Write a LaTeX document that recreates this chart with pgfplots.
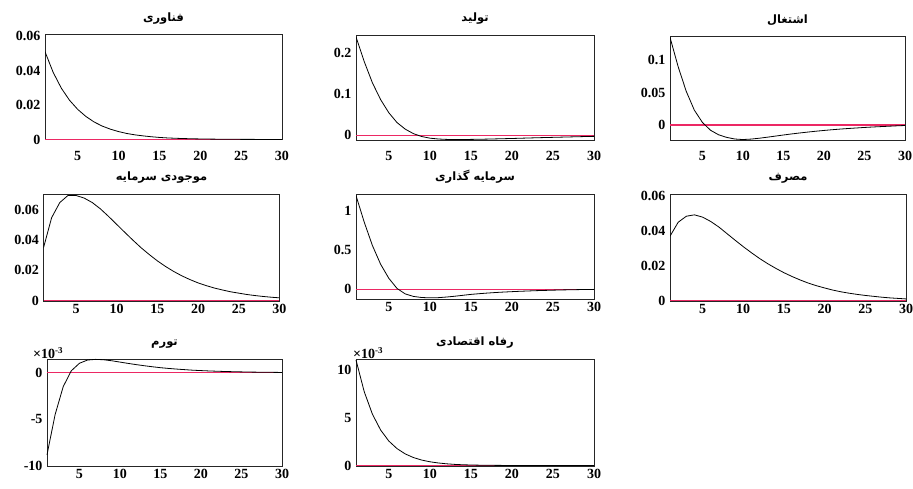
\documentclass[border=0pt]{standalone}
\usepackage{fontspec}
\setmainfont{Liberation Serif}
\newfontfamily\arabicfont[Script=Arabic]{DejaVu Sans}
\TeXXeTstate=1
\usepackage{pgfplots}
\usepackage{pgfplotstable}
\pgfplotsset{compat=1.18}
\definecolor{zl}{RGB}{236,40,100}

\pgfplotstableread{
t a b c d e f g h
1 0.051 0.240 0.135 0.035 1.20 0.037 -0.0088 0.0110
2 0.039 0.180 0.090 0.055 0.86 0.045 -0.0045 0.0077
3 0.0298 0.128 0.052 0.065 0.56 0.0485 -0.0015 0.00535
4 0.0228 0.087 0.023 0.0697 0.32 0.0493 0.0002 0.0037
5 0.0175 0.055 0.004 0.0697 0.14 0.0480 0.0010 0.00255
6 0.0134 0.031 -0.008 0.0680 0.01 0.0455 0.00135 0.00176
7 0.0102 0.015 -0.015 0.0650 -0.06 0.0423 0.00142 0.00121
8 0.0078 0.004 -0.019 0.0608 -0.092 0.0385 0.00138 0.00083
9 0.0060 -0.003 -0.0215 0.0558 -0.106 0.0347 0.00127 0.00057
10 0.0046 -0.007 -0.0223 0.0505 -0.110 0.0310 0.00113 0.00039
11 0.0035 -0.009 -0.0216 0.0452 -0.108 0.0275 0.00099 0.00027
12 0.0027 -0.010 -0.0203 0.0400 -0.100 0.0242 0.00086 0.00018
13 0.0021 -0.0103 -0.0187 0.0350 -0.090 0.0212 0.00074 0.00012
14 0.0016 -0.0103 -0.0170 0.0305 -0.078 0.0185 0.00063 0.00008
15 0.0012 -0.0100 -0.0153 0.0263 -0.066 0.0160 0.00053 0.000055
16 0.0009 -0.0097 -0.0137 0.0226 -0.057 0.0138 0.00045 0.000037
17 0.0007 -0.0093 -0.0122 0.0193 -0.049 0.0118 0.00038 0.000025
18 0.00054 -0.0088 -0.0108 0.0164 -0.042 0.0100 0.00032 0.000017
19 0.00041 -0.0083 -0.0095 0.0139 -0.036 0.0085 0.00026 0.000011
20 0.00032 -0.0078 -0.0083 0.0117 -0.031 0.0072 0.00022 0.000007
21 0.00024 -0.0072 -0.0072 0.0099 -0.026 0.0060 0.00018 0.000005
22 0.00019 -0.0066 -0.0062 0.0083 -0.022 0.0050 0.00015 0.000003
23 0.00014 -0.0060 -0.0053 0.0070 -0.018 0.0042 0.00012 0.000002
24 0.00011 -0.0055 -0.0045 0.0058 -0.015 0.0035 0.00010 0.000001
25 0.00008 -0.0050 -0.0037 0.0049 -0.012 0.0029 0.00008 0.000001
26 0.00006 -0.0045 -0.0030 0.0040 -0.009 0.0024 0.00006 0
27 0.00005 -0.0040 -0.0024 0.0033 -0.007 0.0019 0.00005 0
28 0.00004 -0.0035 -0.0018 0.0027 -0.005 0.0015 0.00004 0
29 0.00003 -0.0030 -0.0012 0.0022 -0.003 0.0012 0.00003 0
30 0.00002 -0.0026 -0.0007 0.0018 -0.002 0.0009 0.00002 0
}\data

\pgfplotsset{irf/.style={
  scale only axis, anchor=north west,
  xmin=1, xmax=30, xtick={5,10,...,30},
  scaled y ticks=false, scaled x ticks=false,
  axis line style={black!85, line width=0.6pt},
  major tick length=0pt,
  tick label style={font=\fontsize{14}{15}\selectfont\bfseries},
  /pgf/number format/assume math mode=true,
  yticklabel style={xshift=-1pt},
  title style={font=\fontsize{11.5}{13}\selectfont\arabicfont\bfseries, at={(0.5,1)}, anchor=south, yshift=1pt},
}, toprow/.style={xticklabel style={yshift=-8pt}}}
\newcommand{\zeroline}{\addplot[zl, line width=1.3pt] coordinates {(1,0) (30,0)};}
\newcommand{\scalelab}[1]{\node[anchor=south west, inner sep=0pt, font=\fontsize{14}{14}\selectfont\bfseries] at (rel axis cs:0,1) [xshift=#1, yshift=0pt] {×10\raisebox{5.5pt}{\fontsize{9}{9}\selectfont -3}};}

\begin{document}
\begin{tikzpicture}
\useasboundingbox (0,0) rectangle (913pt,-489pt);

\begin{axis}[irf, toprow, at={(45pt,-34.5pt)}, width=237pt, height=105pt,
  ymin=0, ymax=0.061, ytick={0,0.02,0.04,0.06}, yticklabels={0,0.02,0.04,0.06},
  title={\beginR فناوری\endR}]
\zeroline
\addplot[black, line width=0.8pt] table[x=t,y=a]{\data};
\end{axis}

\begin{axis}[irf, toprow, at={(356pt,-35.3pt)}, width=238pt, height=104.5pt,
  ymin=-0.011, ymax=0.244, ytick={0,0.1,0.2}, yticklabels={0,0.1,0.2},
  title={\beginR تولید\endR}]
\zeroline
\addplot[black, line width=0.8pt] table[x=t,y=b]{\data};
\end{axis}

\begin{axis}[irf, toprow, at={(670pt,-36pt)}, width=235pt, height=104pt,
  ymin=-0.023, ymax=0.137, ytick={0,0.05,0.1}, yticklabels={0,0.05,0.1},
  title={\beginR اشتغال\endR}]
\zeroline
\addplot[black, line width=0.8pt] table[x=t,y=c]{\data};
\end{axis}

\begin{axis}[irf, at={(43.5pt,-194pt)}, width=236pt, height=107pt,
  ymin=-0.0003, ymax=0.0707, ytick={0,0.02,0.04,0.06}, yticklabels={0,0.02,0.04,0.06},
  title={\beginR موجودی سرمایه\endR}]
\zeroline
\addplot[black, line width=0.8pt] table[x=t,y=d]{\data};
\end{axis}

\begin{axis}[irf, at={(356pt,-194pt)}, width=238pt, height=105pt,
  ymin=-0.125, ymax=1.22, ytick={0,0.5,1}, yticklabels={0,0.5,1},
  title={\beginR سرمایه گذاری\endR}]
\zeroline
\addplot[black, line width=0.8pt] table[x=t,y=e]{\data};
\end{axis}

\begin{axis}[irf, at={(670pt,-194pt)}, width=236pt, height=107pt,
  ymin=-0.0003, ymax=0.0613, ytick={0,0.02,0.04,0.06}, yticklabels={0,0.02,0.04,0.06},
  title={\beginR مصرف\endR}]
\zeroline
\addplot[black, line width=0.8pt] table[x=t,y=f]{\data};
\end{axis}

\begin{axis}[irf, clip=false, at={(47pt,-359pt)}, width=235pt, height=107pt,
  ymin=-0.01, ymax=0.00146, ytick={-0.01,-0.005,0}, yticklabels={-10,-5,0},
  title={\beginR تورم\endR}]
\zeroline
\addplot[black, line width=0.8pt] table[x=t,y=g]{\data};
\scalelab{-14pt}
\end{axis}

\begin{axis}[irf, clip=false, at={(356pt,-359pt)}, width=238pt, height=107pt,
  ymin=-0.00005, ymax=0.0111, ytick={0,0.005,0.01}, yticklabels={0,5,10},
  title={\beginR رفاه اقتصادی\endR}]
\zeroline
\addplot[black, line width=0.8pt] table[x=t,y=h]{\data};
\scalelab{-3pt}
\end{axis}

\end{tikzpicture}
\end{document}
